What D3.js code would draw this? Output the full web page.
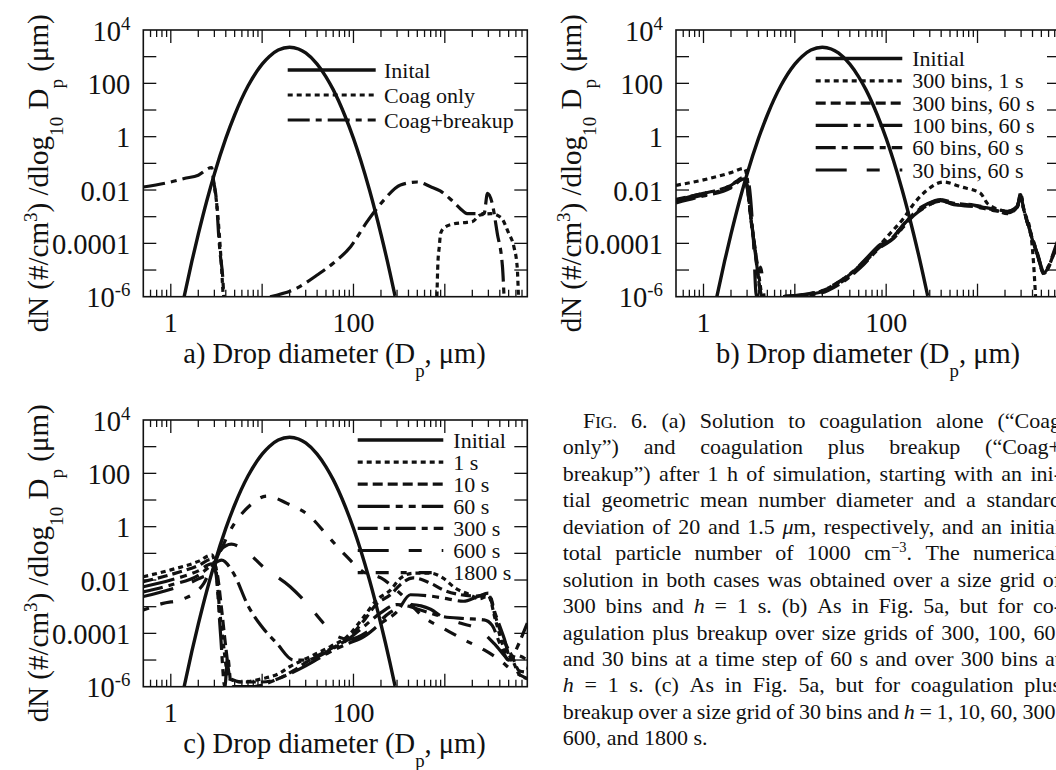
<!DOCTYPE html>
<html>
<head>
<meta charset="utf-8">
<script src="https://cdn.jsdelivr.net/npm/d3@7"></script>
<style>
body { margin: 0; background: #fff; }
svg { display: block; }
text { font-family: "Liberation Serif", "Times New Roman", serif; fill: #111; white-space: pre; }
</style>
</head>
<body>
<svg id="fig" width="1056" height="770"></svg>
<script>
// axis settings
const xDomain = [0.5, 8000];
const yDomain = [1e-6, 1e4];
const xTickLabels = [1, 100];
const yTickValues = [1e4, 100, 1, 0.01, 1e-4, 1e-6];
const yTickLabels = [[["10"], ["4", "sup"]], [["100"]], [["1"]], [["0.01"]], [["0.0001"]], [["10"], ["-6", "sup"]]];

// initial lognormal distribution
const initD = [1.4, 1.7, 2, 2.5, 3, 4, 5, 7, 10, 12, 15, 20, 25, 30, 40, 50, 60, 80, 100, 120, 150, 200, 250, 285];
const initN = [1e-6, 2.1e-5, 2.2e-4, 4.4e-3, 0.04, 0.86, 6.5, 79, 525, 1023, 1762, 2265, 1946, 1374, 525, 176, 58, 6.5, 0.86, 0.13, 0.0098, 2.2e-4, 8.4e-6, 1.07e-6];

// panel a
const coagOnlyD = [2.9, 3.2, 3.5, 3.75, 5, 820, 840, 870, 900, 1000, 1260, 1630, 2000, 2440, 3200, 4100, 5000, 5700, 6200, 6400];
const coagOnlyN = [0.025, 0.0025, 5e-5, 1e-6, null, 1e-6, 1.8e-5, 7.5e-5, 2.4e-4, 4e-4, 5.4e-4, 6e-4, 6.5e-4, 1.15e-3, 1.3e-3, 9.5e-4, 2.4e-4, 7.5e-5, 1.3e-5, 1e-6];
const coagBrkD = [0.5, 1, 1.4, 2, 2.8, 2.93, 3.2, 3.33, 3.47, 3.72, 3.8, 5, 12.2, 24, 40, 60, 93, 141, 215, 327, 500, 700, 890, 1200, 1480, 1750, 2690, 2930, 3300, 3750, 4280, 4450];
const coagBrkN = [0.013, 0.02, 0.027, 0.036, 0.07, 0.024, 0.0024, 2.4e-4, 4.2e-5, 4.2e-6, 1e-6, null, 1e-6, 2.1e-6, 6.5e-6, 1.8e-5, 7.5e-5, 6.5e-4, 4.2e-3, 0.0155, 0.02, 0.0133, 0.0093, 0.004, 0.002, 0.0013, 0.0013, 0.0075, 0.0032, 2.4e-4, 1.3e-5, 1e-6];

// panel b
const b300s1D = [0.5, 1, 2, 2.8, 3.0, 3.3, 3.7, 4.0, 4.35, 5, 7.5, 18, 30, 52, 111, 155, 200, 281, 427, 650, 1080, 1277, 1510, 2120, 2725, 2960, 3220, 3820, 4100, 4320];
const b300s1N = [0.015, 0.024, 0.045, 0.065, 0.03, 1e-3, 5e-5, 8e-6, 1e-6, null, 1e-6, 1.5e-6, 3.5e-6, 1.5e-5, 2.4e-4, 8.7e-4, 3e-3, 0.01, 0.02, 0.0133, 0.0075, 0.0032, 0.0022, 0.0016, 0.0024, 0.0075, 0.0018, 2.4e-4, 2e-5, 1e-6];
const bandD = [0.5, 1, 2, 2.8, 3.0, 3.3, 3.7, 4.0, 4.3, 5, 7.5, 18, 30, 52, 86, 120, 155, 200, 281, 393, 550, 910, 1510, 2120, 2725, 2960, 3220, 3820, 4510, 5340, 6040, 6870, 8000];
const b300s60N = [0.0045, 0.0075, 0.015, 0.03, 0.015, 1e-3, 5e-5, 5e-6, 1e-6, null, 1e-6, 1.4e-6, 3e-6, 1.3e-5, 7.5e-5, 1.6e-4, 4.5e-4, 1.2e-3, 2.6e-3, 3.8e-3, 3.2e-3, 2.6e-3, 1.8e-3, 1.4e-3, 2.2e-3, 6e-3, 1.8e-3, 2.4e-4, 4.2e-5, 8e-6, 1.4e-5, 4.5e-5, 2e-4];
const b100s60N = [0.0038, 0.0065, 0.013, 0.026, 0.013, 8e-4, 4e-5, 4e-6, 1e-6, null, 1e-6, 1.5e-6, 3.3e-6, 1.5e-5, 8.5e-5, 1.8e-4, 5e-4, 1.3e-3, 2.8e-3, 4.2e-3, 2.8e-3, 2.4e-3, 1.7e-3, 1.5e-3, 2.4e-3, 6.5e-3, 1.8e-3, 2.2e-4, 3.8e-5, 7e-6, 1.3e-5, 4.2e-5, 1.8e-4];
const b60s60N = [0.0033, 0.006, 0.012, 0.028, 0.014, 9e-4, 4.5e-5, 4.5e-6, 1e-6, null, 1e-6, 1.3e-6, 2.8e-6, 1.2e-5, 7e-5, 1.5e-4, 4.2e-4, 1.1e-3, 2.5e-3, 4e-3, 3e-3, 2.5e-3, 1.9e-3, 1.3e-3, 2.3e-3, 6e-3, 1.7e-3, 2.6e-4, 4.5e-5, 8.5e-6, 1.5e-5, 5e-5, 2.2e-4];
const b30s60D = [0.5, 1, 2, 2.8, 3.1, 3.5, 3.8, 4.2, 4.6, 5, 7.5, 18, 30, 52, 86, 120, 155, 200, 281, 393, 550, 910, 1510, 2120, 2725, 2960, 3220, 3820, 4510, 5340, 6040, 6870, 8000];
const b30s60N = [0.0042, 0.0075, 0.015, 0.032, 0.02, 2e-4, 1e-6, 1.3e-5, 1e-6, null, 1e-6, 1.6e-6, 3.5e-6, 1.6e-5, 9e-5, 1.9e-4, 5.2e-4, 1.4e-3, 3e-3, 4.4e-3, 3.4e-3, 2.7e-3, 2e-3, 1.6e-3, 2.5e-3, 6.8e-3, 2e-3, 2.4e-4, 4e-5, 7.5e-6, 1.3e-5, 4e-5, 1.7e-4];

// panel c
const c1D = [0.5, 1, 2, 2.8, 3.1, 3.4, 3.8, 4.3, 6, 10, 15, 20, 33, 56, 85, 130, 180, 254, 330, 450, 700, 950, 1300, 1800, 2400, 3000, 3600, 4500, 5500, 6500, 8000];
const c1N = [0.0133, 0.024, 0.05, 0.087, 0.03, 1e-3, 3e-5, 2e-6, 1.5e-6, 2e-6, 3e-6, 5.6e-6, 1.3e-5, 3.2e-5, 7.5e-5, 4.2e-4, 1.8e-3, 4.2e-3, 0.012, 0.018, 0.018, 0.012, 0.005, 0.003, 0.002, 0.0025, 3e-4, 2.5e-5, 1e-5, 3e-6, 2e-6];
const c10D = [0.5, 1, 2, 2.8, 3.2, 3.6, 4.0, 4.5, 6, 10, 15, 22, 33, 56, 85, 130, 180, 254, 330, 450, 700, 1000, 1500, 2200, 3000, 3600, 4500, 5500, 6500, 8000];
const c10N = [0.0087, 0.016, 0.035, 0.06, 0.02, 8e-4, 3e-5, 2e-6, 1.5e-6, 1.5e-6, 2e-6, 4e-6, 1e-5, 2.6e-5, 6e-5, 3e-4, 1.3e-3, 2.8e-3, 7e-3, 0.012, 0.0075, 0.004, 0.0028, 0.0025, 0.0028, 4e-4, 5e-5, 1.3e-5, 4e-6, 3.5e-6];
const c60D = [0.5, 1, 2, 2.8, 3.1, 3.5, 3.9, 4.2, 4.6, 8, 15, 30, 55, 85, 130, 200, 300, 420, 700, 1050, 1600, 2300, 3000, 3600, 4500, 5300, 6200, 8000];
const c60N = [0.0056, 0.01, 0.022, 0.04, 0.02, 1e-4, 1e-6, 1.3e-5, 1e-6, 1e-6, 2e-6, 6e-6, 2e-5, 4e-5, 7.5e-5, 2.4e-4, 6.5e-4, 2.8e-3, 2.5e-3, 2e-3, 1.6e-3, 2.4e-3, 3.2e-3, 5e-4, 6e-5, 1e-5, 3e-5, 2.4e-4];
const c300D = [0.5, 1, 2, 2.8, 3.6, 4.85, 7.1, 9.9, 14.5, 22, 30, 56, 85, 130, 200, 300, 420, 540, 980, 1630, 2690, 3300, 4000, 5000, 6000, 8000];
const c300N = [0.0036, 0.0065, 0.015, 0.035, 0.056, 0.018, 1e-3, 1.8e-4, 4.2e-5, 1e-5, 1e-5, 2.4e-5, 5.6e-5, 1.8e-4, 6e-4, 1.2e-3, 1e-3, 7.5e-4, 4.2e-4, 3.6e-4, 3.2e-4, 2e-4, 4.2e-5, 1e-5, 1.5e-5, 1e-5];
const c600D = [0.5, 1, 2, 2.8, 3.5, 4.6, 6.5, 10.4, 20.3, 31, 47, 65, 90, 150, 250, 420, 700, 930, 1500, 2440, 3500, 5000, 8000];
const c600N = [0.0024, 0.0045, 0.011, 0.022, 0.13, 0.22, 0.13, 0.03, 5.6e-3, 1.3e-3, 2.4e-4, 8e-5, 6e-5, 1.3e-4, 6e-4, 1.2e-3, 8e-4, 4.2e-4, 2.4e-4, 1.3e-4, 4e-5, 1e-5, 5e-6];
const c1800D = [0.5, 0.8, 1.4, 2.3, 2.8, 3.4, 4.5, 7.1, 11.3, 18.7, 33.6, 51, 78, 129, 200, 330, 590, 980, 1540, 2700, 4000, 5500, 8000];
const c1800N = [7.5e-4, 1.3e-3, 2e-3, 7.5e-3, 0.03, 0.1, 0.75, 5.6, 14, 7.5, 2.4, 0.49, 0.1, 0.02, 0.012, 0.003, 4e-4, 1.5e-4, 6.3e-5, 2.4e-5, 1e-5, 4e-6, 2e-6];

// caption, one string per printed line: {..} small caps, *..* italic, ^..^ superscript
const captionLines = [
  "F{IG.} 6. (a) Solution to coagulation alone (“Coag",
  "only”) and coagulation plus breakup (“Coag+",
  "breakup”) after 1 h of simulation, starting with an ini-",
  "tial geometric mean number diameter and a standard",
  "deviation of 20 and 1.5 *μ*m, respectively, and an initial",
  "total particle number of 1000 cm^−3^. The numerical",
  "solution in both cases was obtained over a size grid of",
  "300 bins and *h* = 1 s. (b) As in Fig. 5a, but for co-",
  "agulation plus breakup over size grids of 300, 100, 60,",
  "and 30 bins at a time step of 60 s and over 300 bins at",
  "*h* = 1 s. (c) As in Fig. 5a, but for coagulation plus",
  "breakup over a size grid of 30 bins and *h* = 1, 10, 60, 300,",
  "600, and 1800 s."
];

const dash = {
  solid: null,
  dot: "5,4",
  dash: "10,5",
  longDots: "32,6,7,6,7,6",
  dashDot: "20,6,6,6",
  longShort: "31,20,13,20",
  dotDash: "6,12,13,12"
};

const zip = (D, N) => D.map((d, i) => [d, N[i]]);

const panels = [
  { x0: 143.3, y0: 30, letter: "a",
    legend: { x1: 144.4, x2: 232.4, tx: 240.7, y: 40, step: 25 },
    series: [
      { name: "Inital", data: zip(initD, initN), dash: dash.solid },
      { name: "Coag only", data: zip(coagOnlyD, coagOnlyN), dash: dash.dot },
      { name: "Coag+breakup", data: zip(coagBrkD, coagBrkN), dash: "22,6,6,6" }
    ] },
  { x0: 676, y0: 30, letter: "b",
    legend: { x1: 139.7, x2: 226.3, tx: 236.3, y: 28.5, step: 22.3 },
    series: [
      { name: "Initial", data: zip(initD, initN), dash: dash.solid },
      { name: "300 bins, 1 s", data: zip(b300s1D, b300s1N), dash: dash.dot },
      { name: "300 bins, 60 s", data: zip(bandD, b300s60N), dash: dash.dash },
      { name: "100 bins, 60 s", data: zip(bandD, b100s60N), dash: dash.longDots },
      { name: "60 bins, 60 s", data: zip(bandD, b60s60N), dash: dash.dashDot },
      { name: "30 bins, 60 s", data: zip(b30s60D, b30s60N), dash: dash.longShort }
    ] },
  { x0: 143.3, y0: 420, letter: "c",
    legend: { x1: 214.4, x2: 300, tx: 310, y: 20, step: 22.1 },
    series: [
      { name: "Initial", data: zip(initD, initN), dash: dash.solid },
      { name: "1 s", data: zip(c1D, c1N), dash: dash.dot },
      { name: "10 s", data: zip(c10D, c10N), dash: dash.dash },
      { name: "60 s", data: zip(c60D, c60N), dash: dash.longDots },
      { name: "300 s", data: zip(c300D, c300N), dash: dash.dashDot },
      { name: "600 s", data: zip(c600D, c600N), dash: dash.longShort },
      { name: "1800 s", data: zip(c1800D, c1800N), dash: dash.dotDash }
    ] }
];

const W = 384, H = 266.7;
const x = d3.scaleLog().domain(xDomain).range([0, W]);
const y = d3.scaleLog().domain(yDomain).range([H, 0]);

const svg = d3.select("#fig");
svg.append("rect").attr("width", 1056).attr("height", 770).attr("fill", "#fff");

// text with sub/superscripts: parts = [[text, style]]
function rich(sel, parts, size) {
  let shift = 0;
  parts.forEach(([t, s]) => {
    let target = 0;
    if (s === "sup") target = -0.38 * size;
    if (s === "sub") target = 0.5 * size;
    const ts = sel.append("tspan").attr("dy", target - shift).text(t);
    shift = target;
    if (s === "sup" || s === "sub") ts.attr("font-size", size * 0.66);
    if (s === "sc") ts.attr("font-size", size * 0.76);
    if (s === "i") ts.attr("font-style", "italic");
  });
  return sel;
}

const line = d3.line()
  .defined(d => d[1] != null)
  .x(d => x(d[0]))
  .y(d => y(d[1]))
  .curve(d3.curveMonotoneX);

// minor x ticks
const xMinor = [];
for (let e = -1; e <= 3; e++) {
  for (let k = 1; k <= 9; k++) {
    const v = k * Math.pow(10, e);
    if (v > xDomain[0] && v < xDomain[1]) xMinor.push(v);
  }
}
const yDecades = d3.range(-5, 4).map(e => Math.pow(10, e));

panels.forEach((p, pi) => {
  const g = svg.append("g").attr("transform", `translate(${p.x0},${p.y0})`);
  const clipId = "clip" + pi;
  g.append("clipPath").attr("id", clipId)
    .append("rect").attr("width", W).attr("height", H);

  // data
  const plot = g.append("g").attr("clip-path", `url(#${clipId})`);
  p.series.forEach(s => {
    plot.append("path")
      .attr("d", line(s.data))
      .attr("fill", "none")
      .attr("stroke", "#111")
      .attr("stroke-width", s.dash ? 3.2 : 3.4)
      .attr("stroke-dasharray", s.dash);
  });

  // frame and ticks
  g.append("rect").attr("width", W).attr("height", H)
    .attr("fill", "none").attr("stroke", "#111").attr("stroke-width", 1.6);
  const ticks = g.append("g").attr("stroke", "#111").attr("stroke-width", 1.3);
  xMinor.forEach(v => {
    const major = Math.abs(Math.log10(v) - Math.round(Math.log10(v))) < 1e-9;
    const len = major ? 13 : 7;
    ticks.append("line").attr("x1", x(v)).attr("x2", x(v)).attr("y1", 0).attr("y2", len);
    ticks.append("line").attr("x1", x(v)).attr("x2", x(v)).attr("y1", H).attr("y2", H - len);
  });
  yDecades.forEach(v => {
    ticks.append("line").attr("x1", 0).attr("x2", 13).attr("y1", y(v)).attr("y2", y(v));
    ticks.append("line").attr("x1", W).attr("x2", W - 13).attr("y1", y(v)).attr("y2", y(v));
  });

  // tick labels
  xTickLabels.forEach(v => {
    g.append("text").attr("x", x(v)).attr("y", H + 35)
      .attr("text-anchor", "middle").attr("font-size", 28).text(d3.format("~g")(v));
  });
  yTickValues.forEach((v, i) => {
    rich(g.append("text").attr("x", -13).attr("y", y(v) + 10.5)
      .attr("text-anchor", "end").attr("font-size", 28.5), yTickLabels[i], 28.5);
  });

  // axis titles
  rich(g.append("text").attr("x", 40).attr("y", H + 66)
    .attr("font-size", 28.5),
    [[p.letter + ") Drop diameter (D"], ["p", "sub"], [", μm)"]], 28.5);
  rich(g.append("text")
    .attr("transform", `translate(-95,${H / 2 + 10}) rotate(-90)`)
    .attr("text-anchor", "middle").attr("font-size", 29),
    [["dN (#/cm"], ["3", "sup"], [") /dlog"], ["10", "sub"], [" D"], ["p", "sub"], [" (μm)"]], 29);

  // legend
  const lg = g.append("g");
  p.series.forEach((s, i) => {
    const ly = p.legend.y + i * p.legend.step;
    lg.append("line")
      .attr("x1", p.legend.x1).attr("x2", p.legend.x2).attr("y1", ly).attr("y2", ly)
      .attr("stroke", "#111").attr("stroke-width", s.dash ? 3.2 : 3.4)
      .attr("stroke-dasharray", s.dash);
    lg.append("text").attr("x", p.legend.tx).attr("y", ly + 7.5)
      .attr("font-size", 22).text(s.name);
  });
});

// caption, justified line by line
const capLeft = 562.7, capRight = 1061, capTop = 428, capStep = 26.44, capSize = 22;
function parseWord(w) {
  const parts = [];
  w.replace(/\{([^}]*)\}|\*([^*]*)\*|\^([^^]*)\^|([^{*^]+)/g, (m, sc, it, sup, plain) => {
    if (sc != null) parts.push([sc, "sc"]);
    else if (it != null) parts.push([it, "i"]);
    else if (sup != null) parts.push([sup, "sup"]);
    else parts.push([plain]);
    return m;
  });
  return parts;
}
const cap = svg.append("g");
captionLines.forEach((str, li) => {
  const words = str.split(" ");
  const by = capTop + li * capStep;
  const start = capLeft + (li === 0 ? 20.3 : 0);
  const nodes = words.map(w => rich(cap.append("text").attr("y", by).attr("font-size", capSize), parseWord(w), capSize));
  const widths = nodes.map(n => n.node().getComputedTextLength());
  const total = d3.sum(widths);
  const last = li === captionLines.length - 1;
  let gap = last ? capSize * 0.25 : (capRight - start - total) / (words.length - 1);
  gap = Math.max(gap, 2);
  let cx = start;
  nodes.forEach((n, i) => {
    n.attr("x", cx);
    cx += widths[i] + gap;
  });
});
</script>
</body>
</html>
